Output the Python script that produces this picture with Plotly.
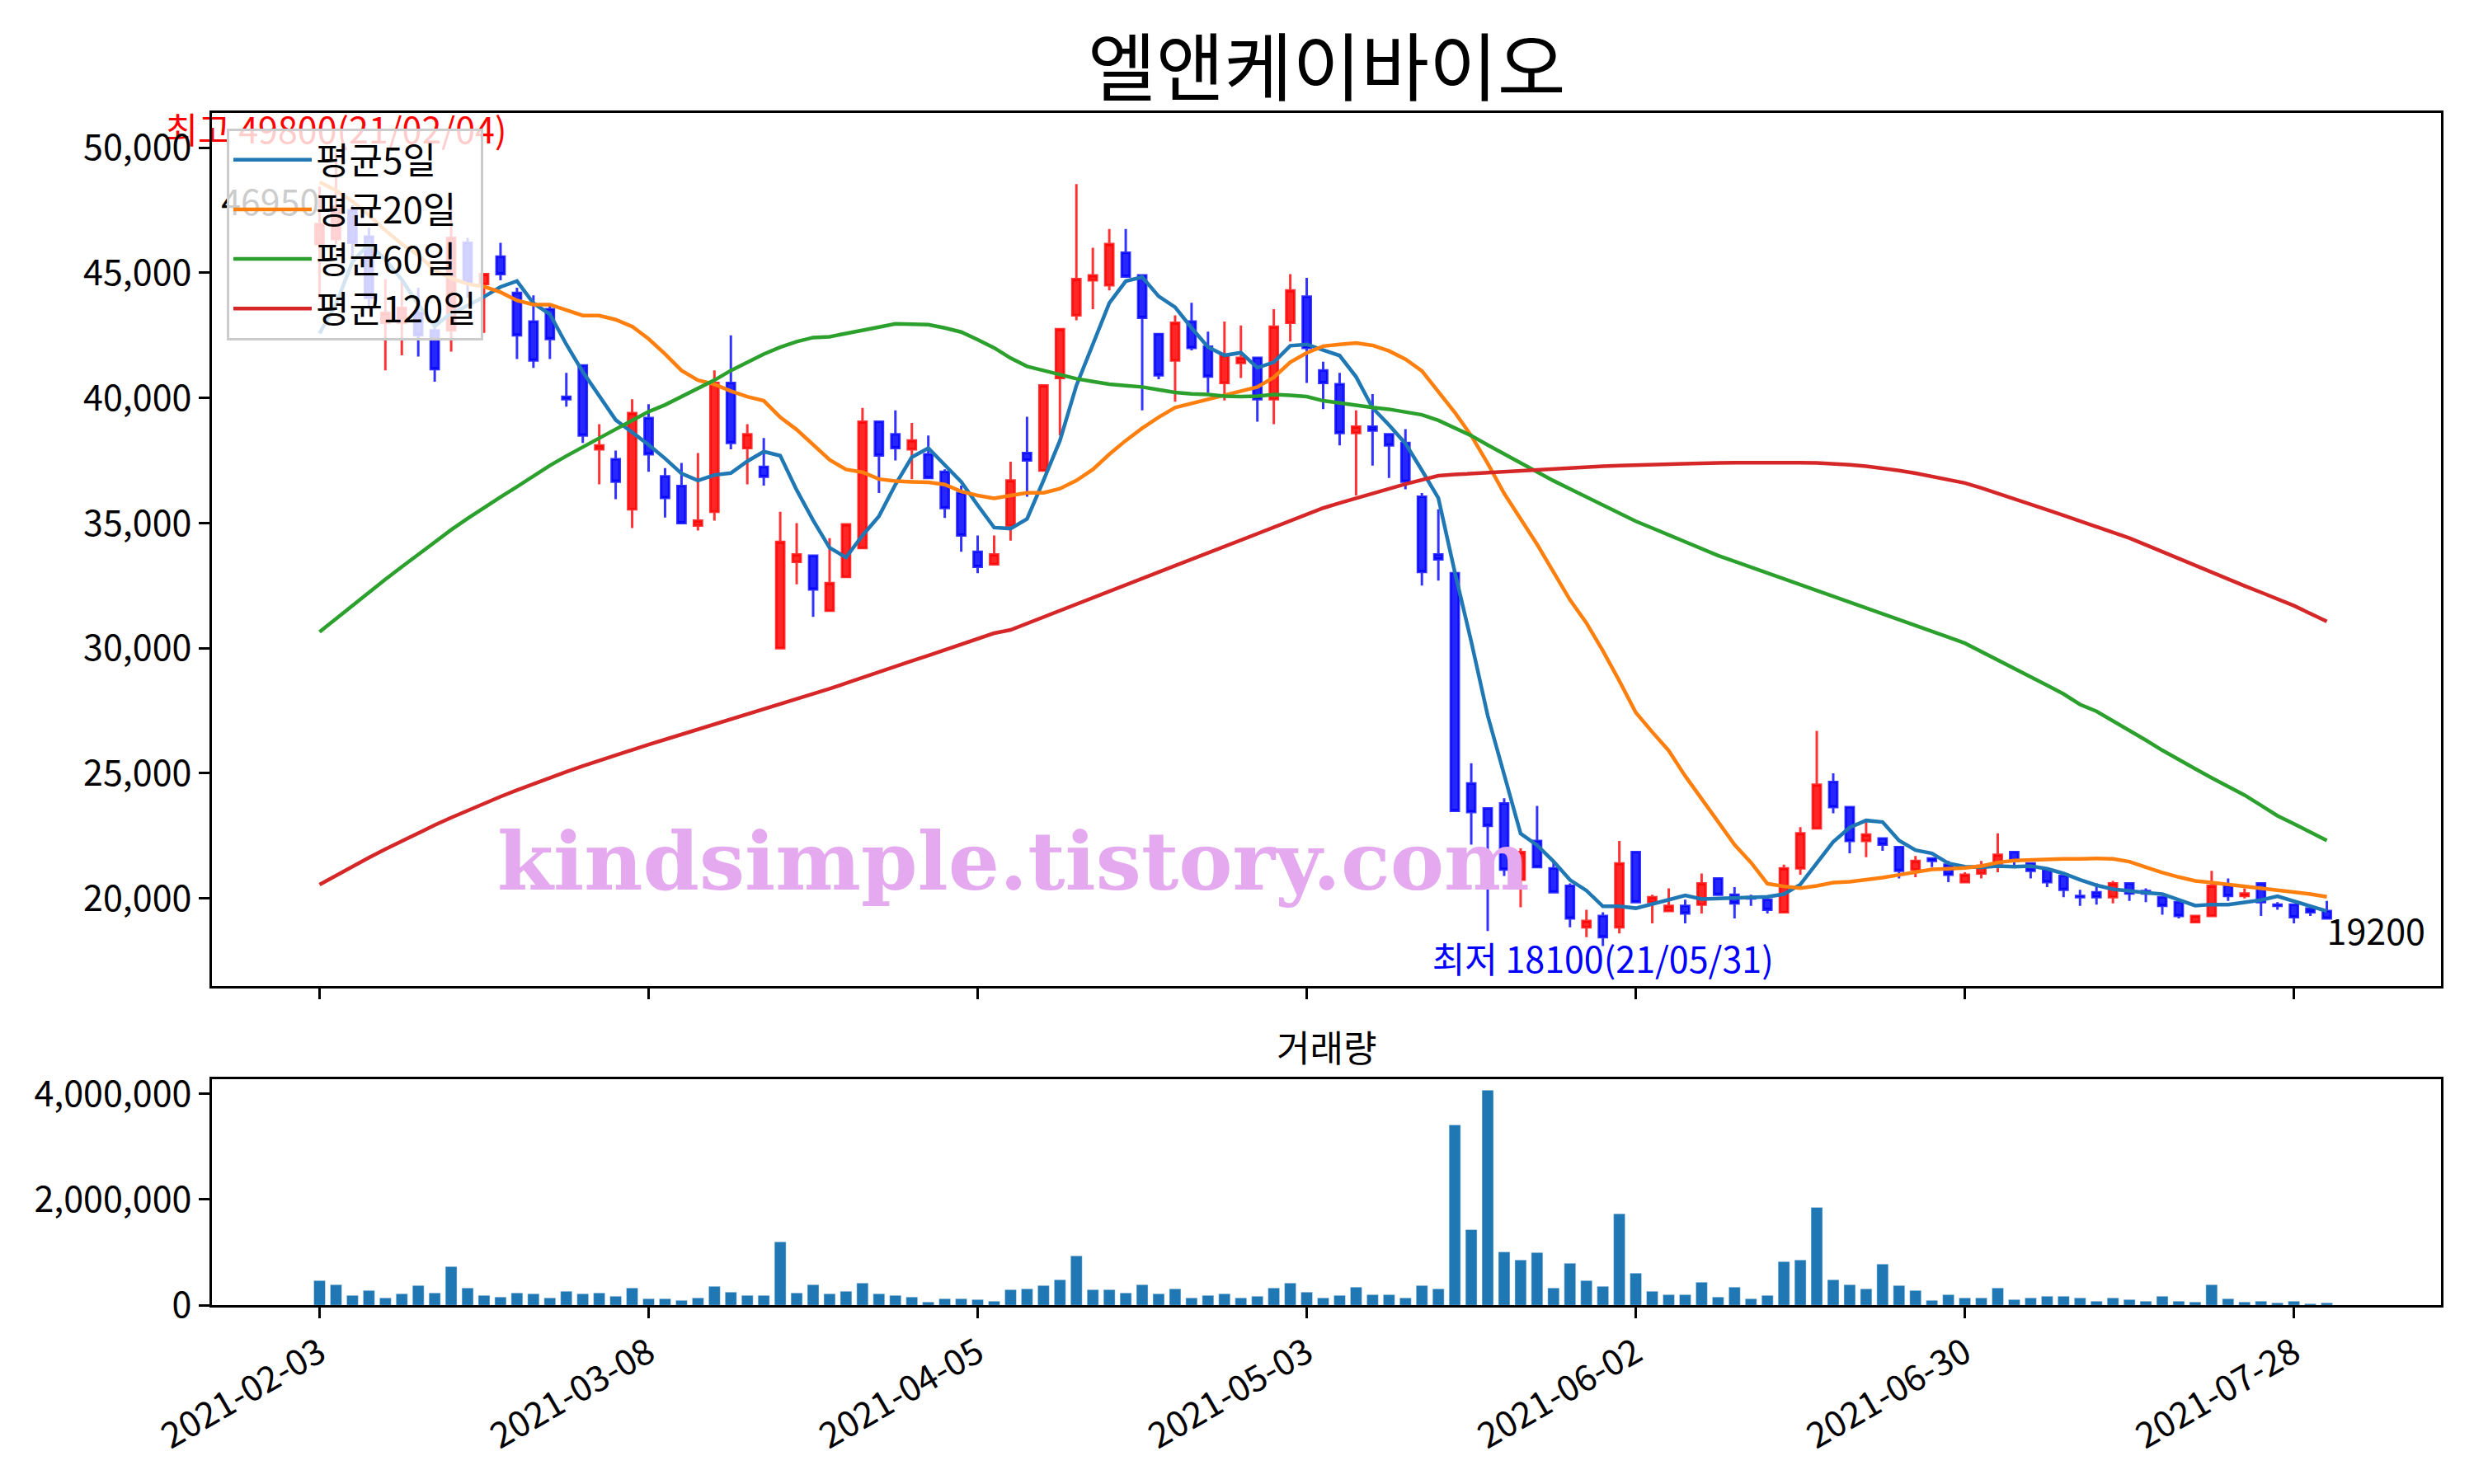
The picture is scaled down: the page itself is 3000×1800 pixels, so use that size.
import plotly.graph_objects as go

# trading days shown (Korean market, 2021-02-03 .. 2021-07-30)
trade_days = {
    2: [3, 4, 5, 8, 9, 10, 15, 16, 17, 18, 19, 22, 23, 24, 25, 26],
    3: [2, 3, 4, 5, 8, 9, 10, 11, 12, 15, 16, 17, 18, 19, 22, 23, 24, 25, 26, 29, 30, 31],
    4: [1, 2, 5, 6, 7, 8, 9, 12, 13, 14, 15, 16, 19, 20, 21, 22, 23, 26, 27, 28, 29, 30],
    5: [3, 4, 6, 7, 10, 11, 12, 13, 14, 17, 18, 20, 21, 24, 25, 26, 27, 28, 31],
    6: [1, 2, 3, 4, 7, 8, 9, 10, 11, 14, 15, 16, 17, 18, 21, 22, 23, 24, 25, 28, 29, 30],
    7: [1, 2, 5, 6, 7, 8, 9, 12, 13, 14, 15, 16, 19, 20, 21, 22, 23, 26, 27, 28, 29, 30],
}
dates = ['2021-%02d-%02d' % (m, d) for m in trade_days for d in trade_days[m]]

opens = [46150, 46350, 47500, 46450, 43000, 43000, 43400, 42700, 42700, 46200,
         44550, 45650, 44200, 43050, 43550, 40050, 41300, 37950, 37550, 35550,
         39200, 36870, 36480, 34900, 35450, 40600, 38000, 37250, 30000, 33450,
         33700, 31500, 32850, 34000, 39050, 38550, 37950, 37750, 37050, 36200,
         33850, 33350, 34900, 37800, 37100, 40800, 43300, 44700, 44500, 45800,
         44900, 42550, 41500, 43050, 42050, 40600, 41400, 41600, 39950, 43000,
         44050, 41100, 40550, 38600, 38850, 38550, 38200, 36050, 33750, 33000,
         24600, 23600, 23800, 20750, 22300, 21200, 20500, 18850, 19300, 18850,
         21850, 19850, 19500, 19700, 19750, 20800, 20150, 20050, 19950, 19450,
         21200, 22800, 24650, 23650, 22300, 22400, 22050, 21150, 21600, 21350,
         20650, 21000, 21400, 21850, 21400, 21150, 20900, 20100, 20250, 20050,
         20600, 20300, 20050, 19850, 19050, 19300, 20500, 20100, 20600, 19750,
         19750, 19600, 19500]
highs = [48450, 49800, 47700, 46800, 44750, 44650, 44400, 42900, 48000, 46400,
         45000, 46200, 44400, 44100, 43700, 41000, 41300, 38950, 37900, 39950,
         39750, 37200, 37400, 37800, 41100, 42500, 38950, 38400, 35450, 35000,
         33750, 34400, 34950, 39600, 39050, 39500, 39000, 38500, 37150, 36500,
         34500, 34500, 37450, 39250, 40550, 42800, 48550, 46000, 46750, 46750,
         44900, 42550, 43300, 43800, 42650, 43050, 42900, 41600, 43550, 44950,
         44800, 41450, 41000, 39500, 40150, 38550, 38750, 36200, 35550, 33000,
         25400, 23600, 24000, 22000, 23700, 21500, 20600, 19550, 19450, 22300,
         21850, 20150, 20400, 19950, 21000, 20800, 20450, 20150, 20100, 21350,
         22850, 26700, 25000, 23650, 23050, 22400, 22050, 21700, 21600, 21500,
         21050, 21500, 22600, 21850, 21400, 21200, 20900, 20350, 20600, 20700,
         20600, 20400, 20050, 19850, 19350, 21100, 20800, 20400, 20600, 19850,
         19750, 19600, 19900]
lows = [43950, 46150, 45600, 43550, 41100, 41700, 41650, 40650, 41850, 44000,
        42600, 44700, 41550, 41200, 41550, 39650, 38200, 36550, 35950, 34800,
        37050, 35220, 34950, 34700, 35100, 37950, 36550, 36500, 30000, 32550,
        31250, 31450, 32800, 34000, 36200, 37500, 36750, 36750, 35200, 33850,
        33000, 33300, 34300, 36050, 37100, 38500, 43100, 43550, 44300, 44850,
        39500, 40750, 39850, 41900, 40200, 39900, 40800, 39050, 38950, 42250,
        40600, 39550, 38100, 36100, 37300, 36800, 36350, 32500, 32700, 23500,
        22150, 18700, 20900, 19650, 21200, 20200, 18850, 18450, 18100, 18600,
        19800, 19000, 19450, 19000, 19400, 20100, 19200, 19700, 19400, 19400,
        20950, 22750, 23400, 21800, 21650, 21900, 20800, 20850, 21250, 20650,
        20600, 20800, 21050, 21300, 20800, 20450, 20050, 19700, 19750, 19800,
        19900, 19850, 19350, 19200, 19050, 19300, 19900, 20000, 19300, 19550,
        19000, 19300, 19200]
closes = [46950, 47650, 46200, 44000, 43400, 43600, 42500, 41150, 46400, 44600,
          44950, 44950, 42500, 41500, 42350, 39950, 38500, 38100, 36650, 39400,
          37750, 36000, 35000, 35100, 40600, 38200, 38550, 36850, 34250, 33750,
          32350, 32600, 34950, 39050, 37700, 38000, 38300, 36800, 35600, 34500,
          33250, 33750, 36700, 37500, 40500, 42750, 44750, 44900, 46150, 44850,
          43200, 40900, 43000, 42000, 40850, 41700, 41600, 39950, 42850, 44300,
          42000, 40600, 38600, 38850, 38700, 38100, 36650, 33050, 33550, 23500,
          23450, 22900, 21150, 21850, 21250, 20250, 19200, 19100, 18450, 21400,
          19850, 20050, 19700, 19400, 20600, 20150, 19800, 20000, 19550, 21200,
          22600, 24550, 23650, 22300, 22550, 22150, 21100, 21500, 21500, 20950,
          20950, 21300, 21750, 21500, 21100, 20650, 20350, 20050, 20050, 20600,
          20200, 20200, 19700, 19300, 19300, 20500, 20100, 20200, 19850, 19700,
          19250, 19450, 19200]
volumes = [467000, 390000, 187000, 280000, 140000, 218000, 374000, 234000, 732000, 327000,
           187000, 156000, 234000, 218000, 140000, 265000, 218000, 234000, 171000, 327000,
           125000, 125000, 93000, 140000, 358000, 249000, 187000, 187000, 1200000, 234000,
           390000, 218000, 265000, 420000, 218000, 187000, 156000, 62000, 125000, 125000,
           109000, 78000, 296000, 312000, 374000, 483000, 935000, 296000, 296000, 234000,
           390000, 218000, 312000, 140000, 187000, 218000, 140000, 171000, 327000, 420000,
           249000, 140000, 187000, 343000, 200000, 200000, 140000, 374000, 312000, 3410000,
           1430000, 4065000, 1010000, 857000, 997000, 327000, 794000, 467000, 358000, 1730000,
           607000, 265000, 200000, 200000, 436000, 156000, 343000, 125000, 187000, 826000,
           857000, 1850000, 483000, 390000, 312000, 779000, 374000, 280000, 93000, 200000,
           140000, 140000, 327000, 109000, 140000, 171000, 171000, 140000, 78000, 140000,
           109000, 78000, 171000, 78000, 62000, 390000, 125000, 62000, 78000, 47000,
           78000, 31000, 47000]

ma5 = [42580, 43745, 45440, 46150, 45530, 44720, 43740, 42860, 43385, 43685,
       44045, 44437, 44670, 43787, 43348, 42140, 41042, 40053, 39120, 38625,
       38130, 37580, 36977, 36702, 36922, 36999, 37471, 37856, 37691, 36318,
       35110, 34012, 33627, 34505, 35274, 36538, 37636, 37998, 37307, 36648,
       35715, 34820, 34781, 35166, 36703, 38296, 40493, 42140, 43788, 44666,
       44831, 44062, 43623, 42799, 42030, 41701, 41811, 41207, 41426, 42085,
       42140, 41910, 41694, 40843, 39604, 38920, 38180, 37107, 35998, 33039,
       30265, 27306, 24902, 22590, 22128, 21481, 20741, 20316, 19687, 19687,
       19610, 19790, 19933, 20119, 19976, 20009, 20009, 20042, 20064, 20174,
       20558, 21382, 22261, 22832, 23117, 23052, 22316, 21931, 21799, 21404,
       21270, 21245, 21294, 21272, 21294, 21184, 20998, 20745, 20526, 20372,
       20284, 20229, 20174, 19954, 19713, 19757, 19757, 19845, 19933, 20086,
       19900, 19713, 19493]
ma20 = [48630, 48290, 47850, 47301, 46697, 46148, 45709, 45104, 44775, 44555,
        44446, 44226, 43896, 43732, 43732, 43512, 43292, 43292, 43128, 42853,
        42360, 41755, 41095, 40711, 40546, 40272, 40052, 39887, 39228, 38734,
        38130, 37526, 37142, 37032, 36757, 36680, 36647, 36625, 36538, 36263,
        36100, 35990, 36099, 36209, 36209, 36374, 36703, 37143, 37747, 38296,
        38790, 39230, 39614, 39779, 39943, 40108, 40273, 40438, 40822, 41426,
        41800, 42070, 42138, 42193, 42101, 41879, 41546, 41083, 40251, 39419,
        38494, 37385, 36183, 35166, 34148, 33039, 31930, 31005, 29895, 28693,
        27430, 26650, 25907, 24897, 23963, 23030, 22151, 21437, 20591, 20482,
        20416, 20504, 20635, 20668, 20745, 20833, 20943, 21053, 21162, 21184,
        21217, 21294, 21437, 21514, 21547, 21569, 21580, 21580, 21602, 21580,
        21470, 21250, 21031, 20855, 20701, 20635, 20558, 20504, 20416, 20339,
        20262, 20174, 20064]
ma60 = [30650, 31180, 31700, 32230, 32750, 33250, 33750, 34240, 34730, 35180,
        35620, 36040, 36450, 36880, 37300, 37680, 38050, 38400, 38750, 39100,
        39450, 39723, 40052, 40382, 40711, 41095, 41425, 41754, 42029, 42249,
        42413, 42446, 42578, 42721, 42831, 42963, 42963, 42930, 42798, 42633,
        42330, 42000, 41591, 41262, 41097, 40932, 40767, 40657, 40548, 40493,
        40438, 40328, 40218, 40163, 40141, 40075, 40053, 40075, 40141, 40108,
        40053, 39888, 39790, 39697, 39620, 39548, 39440, 39326, 39105, 38800,
        38494, 38120, 37755, 37385, 37015, 36690, 36368, 36044, 35720, 35400,
        35073, 34800, 34530, 34250, 33980, 33700, 33470, 33240, 33010, 32780,
        32550, 32320, 32090, 31860, 31630, 31400, 31160, 30920, 30680, 30440,
        30200, 29870, 29540, 29210, 28870, 28520, 28170, 27750, 27478, 27100,
        26709, 26324, 25920, 25530, 25180, 24820, 24470, 24128, 23720, 23304,
        22980, 22645, 22316]
ma120 = [20550, 20920, 21280, 21630, 21970, 22300, 22620, 22930, 23230, 23520,
         23800, 24070, 24330, 24580, 24820, 25060, 25290, 25510, 25730, 25940,
         26150, 26350, 26550, 26750, 26950, 27150, 27350, 27550, 27750, 27950,
         28160, 28380, 28600, 28830, 29050, 29270, 29490, 29710, 29930, 30150,
         30370, 30600, 30730, 30990, 31250, 31510, 31770, 32020, 32270, 32530,
         32790, 33040, 33300, 33550, 33810, 34070, 34320, 34580, 34840, 35090,
         35350, 35600, 35800, 36000, 36190, 36370, 36560, 36730, 36890, 36940,
         36980, 37020, 37050, 37080, 37110, 37150, 37190, 37240, 37270, 37300,
         37320, 37350, 37370, 37385, 37395, 37405, 37412, 37418, 37421, 37421,
         37415, 37400, 37370, 37330, 37270, 37200, 37100, 36990, 36870, 36740,
         36600, 36400, 36190, 35970, 35750, 35530, 35310, 35080, 34860, 34630,
         34400, 34130, 33850, 33570, 33300, 33020, 32760, 32490, 32230, 31960,
         31700, 31380, 31070]

ma_names = ['평균5일', '평균20일', '평균60일', '평균120일']
ma_colors = ['#1f77b4', '#ff7f0e', '#2ca02c', '#d62728']
tick_dates = dates[::20]

FONT = 'Noto Sans CJK KR'
x_range = [-6.54, 128.94]

fig = go.Figure()

fig.add_trace(go.Candlestick(
    x=dates, open=opens, high=highs, low=lows, close=closes,
    increasing=dict(line=dict(color='rgba(255,0,0,0.8)', width=3), fillcolor='rgba(255,0,0,0.85)'),
    decreasing=dict(line=dict(color='rgba(0,0,255,0.8)', width=3), fillcolor='rgba(0,0,255,0.85)'),
    whiskerwidth=0, showlegend=False, xaxis='x', yaxis='y'))

for name, vals, col in zip(ma_names, [ma5, ma20, ma60, ma120], ma_colors):
    fig.add_trace(go.Scatter(x=dates, y=vals, mode='lines', name=name,
                             line=dict(color=col, width=4.5), xaxis='x', yaxis='y'))

# high / low / first / last labels
hi = highs.index(max(highs))
lo = lows.index(min(lows))
fig.add_trace(go.Scatter(
    x=[dates[hi]], y=[highs[hi]], mode='text',
    text=['최고 %d(%s)' % (highs[hi], dates[hi][2:].replace('-', '/'))],
    textposition='top center', textfont=dict(color='red', size=43, family=FONT),
    cliponaxis=False, showlegend=False, hoverinfo='skip'))
fig.add_trace(go.Scatter(
    x=[dates[lo]], y=[lows[lo]], mode='text',
    text=['최저 %d(%s)' % (lows[lo], dates[lo][2:].replace('-', '/'))],
    textposition='bottom center', textfont=dict(color='blue', size=43, family=FONT),
    cliponaxis=False, showlegend=False, hoverinfo='skip'))
fig.add_trace(go.Scatter(
    x=[dates[0]], y=[closes[0]], mode='text', text=[str(closes[0])],
    textposition='top left', textfont=dict(color='black', size=43, family=FONT),
    cliponaxis=False, showlegend=False, hoverinfo='skip'))
fig.add_trace(go.Scatter(
    x=[dates[-1]], y=[closes[-1]], mode='text', text=[str(closes[-1])],
    textposition='bottom right', textfont=dict(color='black', size=43, family=FONT),
    cliponaxis=False, showlegend=False, hoverinfo='skip'))

fig.add_trace(go.Bar(x=dates, y=volumes, marker_color='#1f77b4', showlegend=False,
                     xaxis='x2', yaxis='y2'))

axis_common = dict(showline=True, linecolor='black', linewidth=3, mirror=True,
                   ticks='outside', ticklen=13, tickwidth=2.5, tickcolor='black',
                   showgrid=False, zeroline=False, automargin=False,
                   tickfont=dict(family=FONT, size=43, color='black'))

fig.update_layout(
    width=3000, height=1800,
    margin=dict(l=0, r=0, t=0, b=0),
    paper_bgcolor='white', plot_bgcolor='white',
    font=dict(family=FONT, color='black'),
    bargap=0.3,
    xaxis=dict(domain=[0.083, 0.984], type='category', range=x_range,
               tickvals=tick_dates, showticklabels=False, anchor='y',
               rangeslider=dict(visible=False), **axis_common),
    yaxis=dict(domain=[0.3399, 0.9281], range=[16494, 51374],
               tickvals=[20000, 25000, 30000, 35000, 40000, 45000, 50000],
               tickformat=',d', anchor='x', **axis_common),
    xaxis2=dict(domain=[0.083, 0.984], type='category', range=x_range,
                tickvals=tick_dates, ticktext=tick_dates, tickangle=-30,
                anchor='y2', **axis_common),
    yaxis2=dict(domain=[0.1249, 0.2771], range=[0, 4270000],
                tickvals=[0, 2000000, 4000000], tickformat=',d',
                anchor='x2', **axis_common),
    legend=dict(x=0.089, y=0.918, xanchor='left', yanchor='top', itemwidth=95,
                bgcolor='rgba(255,255,255,0.8)', bordercolor='#cccccc', borderwidth=3,
                font=dict(family=FONT, size=44, color='black')),
    annotations=[
        dict(text='엘앤케이바이오', x=0.5335, y=0.962, xref='paper', yref='paper',
             xanchor='center', yanchor='middle', showarrow=False,
             font=dict(family=FONT, size=90, color='black')),
        dict(text='거래량', x=0.5335, y=0.2995, xref='paper', yref='paper',
             xanchor='center', yanchor='middle', showarrow=False,
             font=dict(family=FONT, size=44, color='black')),
        dict(text='<b>kindsimple.tistory.com</b>', x=0.407, y=0.424, xref='paper', yref='paper',
             xanchor='center', yanchor='middle', showarrow=False,
             font=dict(family='DejaVu Serif', size=98, color='#e4a9ee')),
    ],
)

fig.write_html('out.html')
